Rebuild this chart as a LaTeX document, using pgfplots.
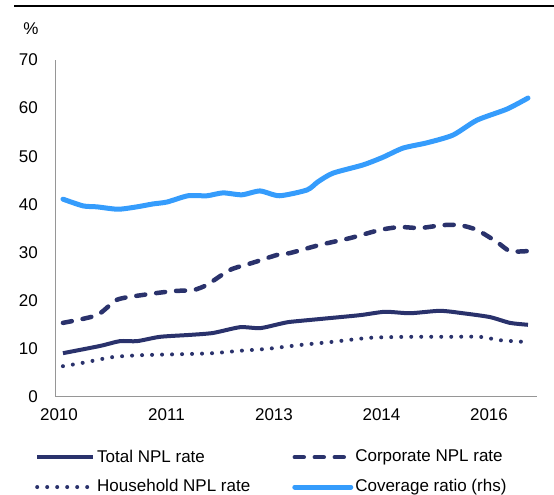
\documentclass[border=0pt]{standalone}
\usepackage{fontspec}
\setmainfont{Liberation Sans}
\usepackage{pgfplots}
\pgfplotsset{compat=1.18}
\definecolor{navy}{RGB}{42,50,108}
\definecolor{covblue}{RGB}{53,156,252}
\definecolor{axgray}{RGB}{150,150,150}

\begin{document}
\fontsize{17}{20}\selectfont
\begin{tikzpicture}[x=1pt,y=1pt]
\useasboundingbox (0,0) rectangle (554,495);
\begin{axis}[
  at={(55pt,98pt)}, anchor=south west,
  scale only axis, width=482pt, height=337pt,
  xmin=-0.037, xmax=4.447, ymin=0, ymax=70,
  axis x line*=bottom, axis y line*=left,
  axis line style={axgray, line width=1pt},
  xtick={0,1,2,3,4}, xticklabels={2010,2011,2013,2014,2016},
  ytick={0,10,...,70},
  major tick length=0pt,
  tick label style={font=\fontsize{17}{20}\selectfont, black},
  /pgf/number format/assume math mode=true,
  yticklabel style={inner sep=0pt, xshift=-17pt},
  xticklabel style={inner sep=0pt, yshift=-11pt},
  ylabel={\%},
  every axis y label/.style={at={(axis description cs:-0.05,1.092)}, anchor=center, font=\fontsize{17}{20}\selectfont},
  legend columns=2,
  legend cell align=left,
  legend style={at={(axis description cs:-0.0415,-0.15)}, anchor=north west,
    draw=none, fill=none, inner sep=0pt, row sep=11pt,
    font=\fontsize{17}{20}\selectfont, nodes={inner sep=2pt},
    /tikz/every even column/.append style={column sep=40pt}},
  legend image code/.code={\draw[#1] (0pt,0pt) -- (56pt,0pt);},
]
% total NPL rate
\addplot[navy, line width=4pt, smooth, tension=0.4] coordinates {
  (0.037,9.1)(0.381,10.6)(0.567,11.6)(0.726,11.6)(0.94,12.5)(1.219,12.9)
  (1.433,13.3)(1.684,14.5)(1.87,14.3)(2.056,15.2)(2.149,15.6)(2.428,16.2)
  (2.8,17.0)(3.033,17.7)(3.265,17.4)(3.544,17.9)(3.758,17.4)(4.009,16.6)
  (4.195,15.4)(4.363,15.0)};
\addlegendentry{Total NPL rate}
% corporate NPL rate
\addplot[navy, line width=4.5pt, line cap=round, dash pattern=on 9pt off 11pt, smooth, tension=0.4] coordinates {
  (0.037,15.4)(0.353,17.0)(0.54,20.2)(0.781,21.2)(1.06,22.0)(1.247,22.2)
  (1.377,23.3)(1.591,26.4)(1.805,27.9)(2.028,29.5)(2.149,29.9)(2.428,31.6)
  (2.707,33.0)(2.986,34.7)(3.172,35.3)(3.358,35.1)(3.572,35.7)(3.73,35.7)
  (3.888,34.7)(4.074,32.2)(4.195,30.3)(4.353,30.3)};
\addlegendentry{Corporate NPL rate}
% household NPL rate
\addplot[navy, line width=4pt, line cap=round, dash pattern=on 0pt off 10pt, smooth, tension=0.4] coordinates {
  (0.037,6.4)(0.223,7.1)(0.502,8.3)(0.781,8.7)(1.153,8.9)(1.433,9.1)
  (1.684,9.6)(1.935,10.0)(2.242,10.8)(2.521,11.4)(2.893,12.3)(3.265,12.5)
  (3.637,12.5)(3.916,12.5)(4.102,11.8)(4.363,11.4)};
\addlegendentry{Household NPL rate}
% coverage ratio
\addplot[covblue, line width=5pt, line cap=round, line join=round, smooth, tension=0.4] coordinates {
  (0.037,41.1)(0.223,39.7)(0.353,39.5)(0.549,39.0)(0.726,39.5)(0.874,40.1)
  (1.005,40.5)(1.2,41.8)(1.377,41.8)(1.526,42.4)(1.702,42.0)(1.87,42.8)
  (2.05,41.8)(2.307,43.0)(2.409,44.7)(2.549,46.5)(2.828,48.2)(3.014,49.8)
  (3.2,51.7)(3.423,52.8)(3.665,54.4)(3.888,57.5)(4.167,59.8)(4.363,62.1)};
\addlegendentry{Coverage ratio (rhs)}
\end{axis}
% rule across the top
\draw[black, line width=1.5pt] (14pt,489pt) -- (554pt,489pt);
\end{tikzpicture}
\end{document}
